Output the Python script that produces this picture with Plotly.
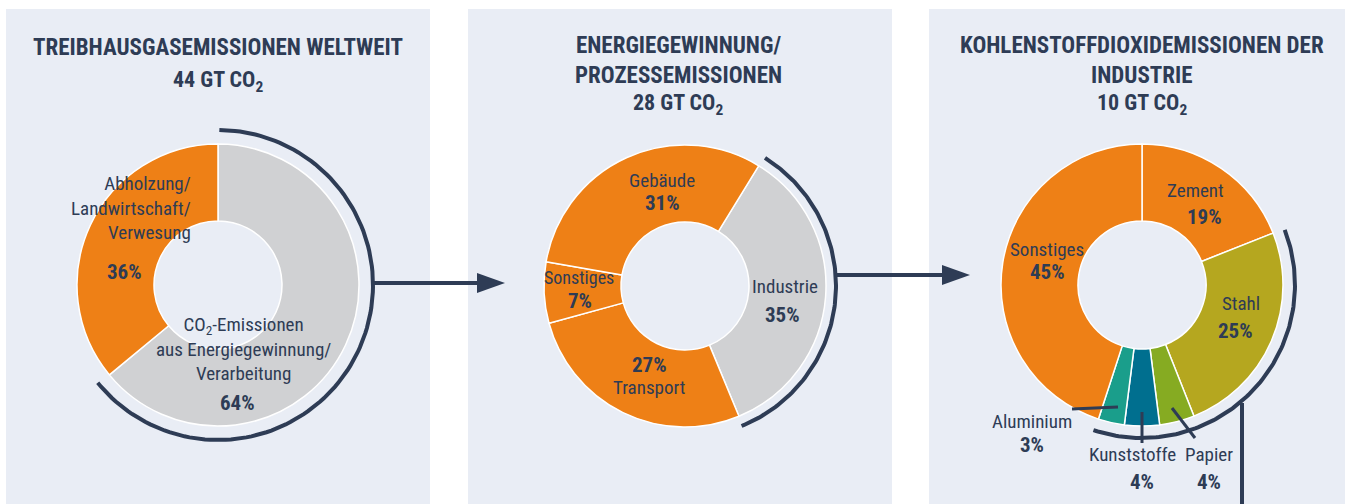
import math
import plotly.graph_objects as go

# ---------------- data ----------------
titles = [
    "TREIBHAUSGASEMISSIONEN WELTWEIT",
    "ENERGIEGEWINNUNG/<br>PROZESSEMISSIONEN",
    "KOHLENSTOFFDIOXIDEMISSIONEN DER<br>INDUSTRIE",
]
totals = ["44 GT CO<sub>2</sub>", "28 GT CO<sub>2</sub>", "10 GT CO<sub>2</sub>"]

p1_labels = ["CO<sub>2</sub>-Emissionen<br>aus Energiegewinnung/<br>Verarbeitung",
             "Abholzung/<br>Landwirtschaft/<br>Verwesung"]
p1_values = [64, 36]

p2_labels = ["Industrie", "Transport", "Sonstiges", "Gebäude"]
p2_values = [35, 27, 7, 31]

p3_labels = ["Zement", "Stahl", "Papier", "Kunststoffe", "Aluminium", "Sonstiges"]
p3_values = [19, 25, 4, 4, 3, 45]

# ---------------- style ----------------
W, H = 1345, 504
NAVY = "#2e3c55"
PANEL = "#e9edf5"
ORANGE = "#ee8016"
GREY = "#d0d1d3"
p1_colors = [GREY, ORANGE]
p2_colors = [GREY, ORANGE, ORANGE, ORANGE]
p3_colors = [ORANGE, "#b5a71f", "#86ab22", "#006f8f", "#1a9e8b", ORANGE]

FONT = "Liberation Sans Narrow, Roboto Condensed, Roboto, sans-serif"

panels = [(6, 430), (468, 892), (929, 1345)]
centers = [(218, 285), (685, 286), (1142, 285)]
R_OUT = 141
HOLE = 64 / 141
rotations = [0, 31.5, 0]

fig = go.Figure()

# background panels
for x0, x1 in panels:
    fig.add_shape(type="rect", xref="x", yref="y", x0=x0, x1=x1, y0=9, y1=H,
                  fillcolor=PANEL, line_width=0, layer="below")

def dom(c):
    cx, cy = c
    return dict(x=[(cx - R_OUT) / W, (cx + R_OUT) / W],
                y=[(H - cy - R_OUT) / H, (H - cy + R_OUT) / H])

for vals, cols, c, rot in [(p1_values, p1_colors, centers[0], rotations[0]),
                           (p2_values, p2_colors, centers[1], rotations[1]),
                           (p3_values, p3_colors, centers[2], rotations[2])]:
    fig.add_trace(go.Pie(values=vals, marker=dict(colors=cols, line=dict(color="white", width=1.5)),
                         hole=HOLE, sort=False, direction="clockwise", rotation=rot,
                         textinfo="none", hoverinfo="skip", showlegend=False, domain=dom(c)))

# arcs around highlighted slices (angles derived from the data)
def arc(c, r, a0, a1, n=120):
    cx, cy = c
    xs, ys = [], []
    for i in range(n + 1):
        a = math.radians(a0 + (a1 - a0) * i / n)
        xs.append(cx + r * math.sin(a))
        ys.append(cy - r * math.cos(a))
    return xs, ys

def span(values, idx_from, idx_to, rot):
    tot = sum(values)
    start = rot + 360 * sum(values[:idx_from]) / tot
    end = rot + 360 * sum(values[:idx_to + 1]) / tot
    return start, end

arc_specs = [
    (centers[0], R_OUT + 14, span(p1_values, 0, 0, rotations[0])),
    (centers[1], R_OUT + 10, span(p2_values, 0, 0, rotations[1])),
    (centers[2], R_OUT + 12, span(p3_values, 1, 4, rotations[2])),
]
for c, r, (a0, a1) in arc_specs:
    xs, ys = arc(c, r, a0 + 0.5, a1 + 0.5)
    fig.add_trace(go.Scatter(x=xs, y=ys, mode="lines", line=dict(color=NAVY, width=4),
                             hoverinfo="skip", showlegend=False))

# connectors with arrows
def connector(x0, x1, y, head=True):
    fig.add_shape(type="line", xref="x", yref="y", x0=x0, x1=x1 - (25 if head else 0), y0=y, y1=y,
                  line=dict(color=NAVY, width=4))
    if head:
        fig.add_shape(type="path", xref="x", yref="y",
                      path=f"M {x1-28},{y-10} L {x1},{y} L {x1-28},{y+10} Z",
                      fillcolor=NAVY, line_width=0)

connector(centers[0][0] + R_OUT + 14, 505, 283)
connector(centers[1][0] + R_OUT + 10, 970, 275)
fig.add_shape(type="line", xref="x", yref="y", x0=1242, x1=1242, y0=403, y1=H,
              line=dict(color=NAVY, width=4))

# leader lines panel 3
for (x0, y0, x1, y1) in [(1072, 409, 1118, 407), (1142, 412, 1142, 443), (1172, 408, 1195, 438)]:
    fig.add_shape(type="line", xref="x", yref="y", x0=x0, y0=y0, x1=x1, y1=y1,
                  line=dict(color=NAVY, width=3))

def txt(x, y, s, size=19, bold=False, align="center", xanchor="center"):
    if bold:
        s = f"<b>{s}</b>"
    fig.add_annotation(x=x, y=y, xref="x", yref="y", text=s, showarrow=False,
                       font=dict(family=FONT, size=size, color=NAVY), align=align,
                       xanchor=xanchor, yanchor="middle")

# titles
title_pos = [(218, 47, 81), (678, 60, 104), (1142, 60, 104)]
for (x, yt, yv), t, v in zip(title_pos, titles, totals):
    txt(x, yt, t, size=23, bold=True)
    txt(x, yv, v, size=22, bold=True)

PS = 21
pct = lambda v: f"{v}%"
# panel 1
txt(193, 208, p1_labels[1], align="right", xanchor="right")
txt(124, 272, pct(p1_values[1]), size=PS, bold=True)
txt(243, 349, p1_labels[0])
txt(237, 403, pct(p1_values[0]), size=PS, bold=True)
# panel 2
txt(785, 286, p2_labels[0]); txt(782, 315, pct(p2_values[0]), size=PS, bold=True)
txt(649, 387, p2_labels[1]); txt(649, 365, pct(p2_values[1]), size=PS, bold=True)
txt(579, 277, p2_labels[2], size=18); txt(580, 301, pct(p2_values[2]), size=PS, bold=True)
txt(662, 180, p2_labels[3]); txt(662, 203, pct(p2_values[3]), size=PS, bold=True)
# panel 3
txt(1195, 190, p3_labels[0]); txt(1204, 217, pct(p3_values[0]), size=PS, bold=True)
txt(1241, 303, p3_labels[1]); txt(1235, 331, pct(p3_values[1]), size=PS, bold=True)
txt(1209, 454, p3_labels[2]); txt(1209, 482, pct(p3_values[2]), size=PS, bold=True)
txt(1132, 454, p3_labels[3]); txt(1142, 482, pct(p3_values[3]), size=PS, bold=True)
txt(1032, 421, p3_labels[4]); txt(1032, 445, pct(p3_values[4]), size=PS, bold=True)
txt(1047, 249, p3_labels[5]); txt(1047, 272, pct(p3_values[5]), size=PS, bold=True)

fig.update_layout(
    width=W, height=H, margin=dict(l=0, r=0, t=0, b=0),
    paper_bgcolor="white", plot_bgcolor="rgba(0,0,0,0)",
    xaxis=dict(range=[0, W], visible=False, fixedrange=True),
    yaxis=dict(range=[H, 0], visible=False, fixedrange=True),
)
fig.write_html("out.html", post_script="document.body.style.margin='0';",
               config={"displayModeBar": False})
